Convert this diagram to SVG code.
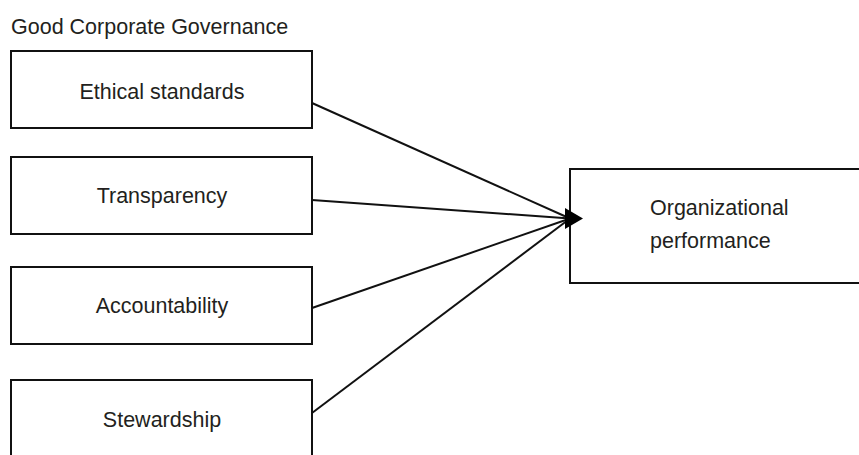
<svg xmlns="http://www.w3.org/2000/svg" width="859" height="455" viewBox="0 0 859 455">
<style>
.box{fill:#fff;stroke:#111;stroke-width:2}
.lbl{font-family:"Liberation Sans",Arial,sans-serif;font-size:21.5px;fill:#231f20}
.mid{text-anchor:middle}
.edge{stroke:#111;stroke-width:2;fill:none}
</style>
<rect width="859" height="455" fill="#fff"/>
<text class="lbl" x="11" y="34">Good Corporate Governance</text>
<g id="ethical">
<rect class="box" x="11" y="51" width="301" height="77"/>
<text class="lbl mid" x="162" y="99">Ethical standards</text>
</g>
<g id="transparency">
<rect class="box" x="11" y="157" width="301" height="77"/>
<text class="lbl mid" x="162" y="203">Transparency</text>
</g>
<g id="accountability">
<rect class="box" x="11" y="267" width="301" height="77"/>
<text class="lbl mid" x="162" y="313">Accountability</text>
</g>
<g id="stewardship">
<rect class="box" x="11" y="380" width="301" height="90"/>
<text class="lbl mid" x="162" y="427">Stewardship</text>
</g>
<g id="performance">
<rect class="box" x="570" y="169" width="300" height="114"/>
<text class="lbl" x="650" y="215">Organizational</text>
<text class="lbl" x="650" y="248">performance</text>
</g>
<g id="connectors">
<line class="edge" x1="312" y1="103" x2="570" y2="218.5"/>
<line class="edge" x1="312" y1="200" x2="570" y2="218.5"/>
<line class="edge" x1="312" y1="308" x2="570" y2="218.5"/>
<line class="edge" x1="312" y1="413" x2="570" y2="218.5"/>
<polygon points="565,208 583,218.5 565,229" fill="#000"/>
</g>
</svg>
